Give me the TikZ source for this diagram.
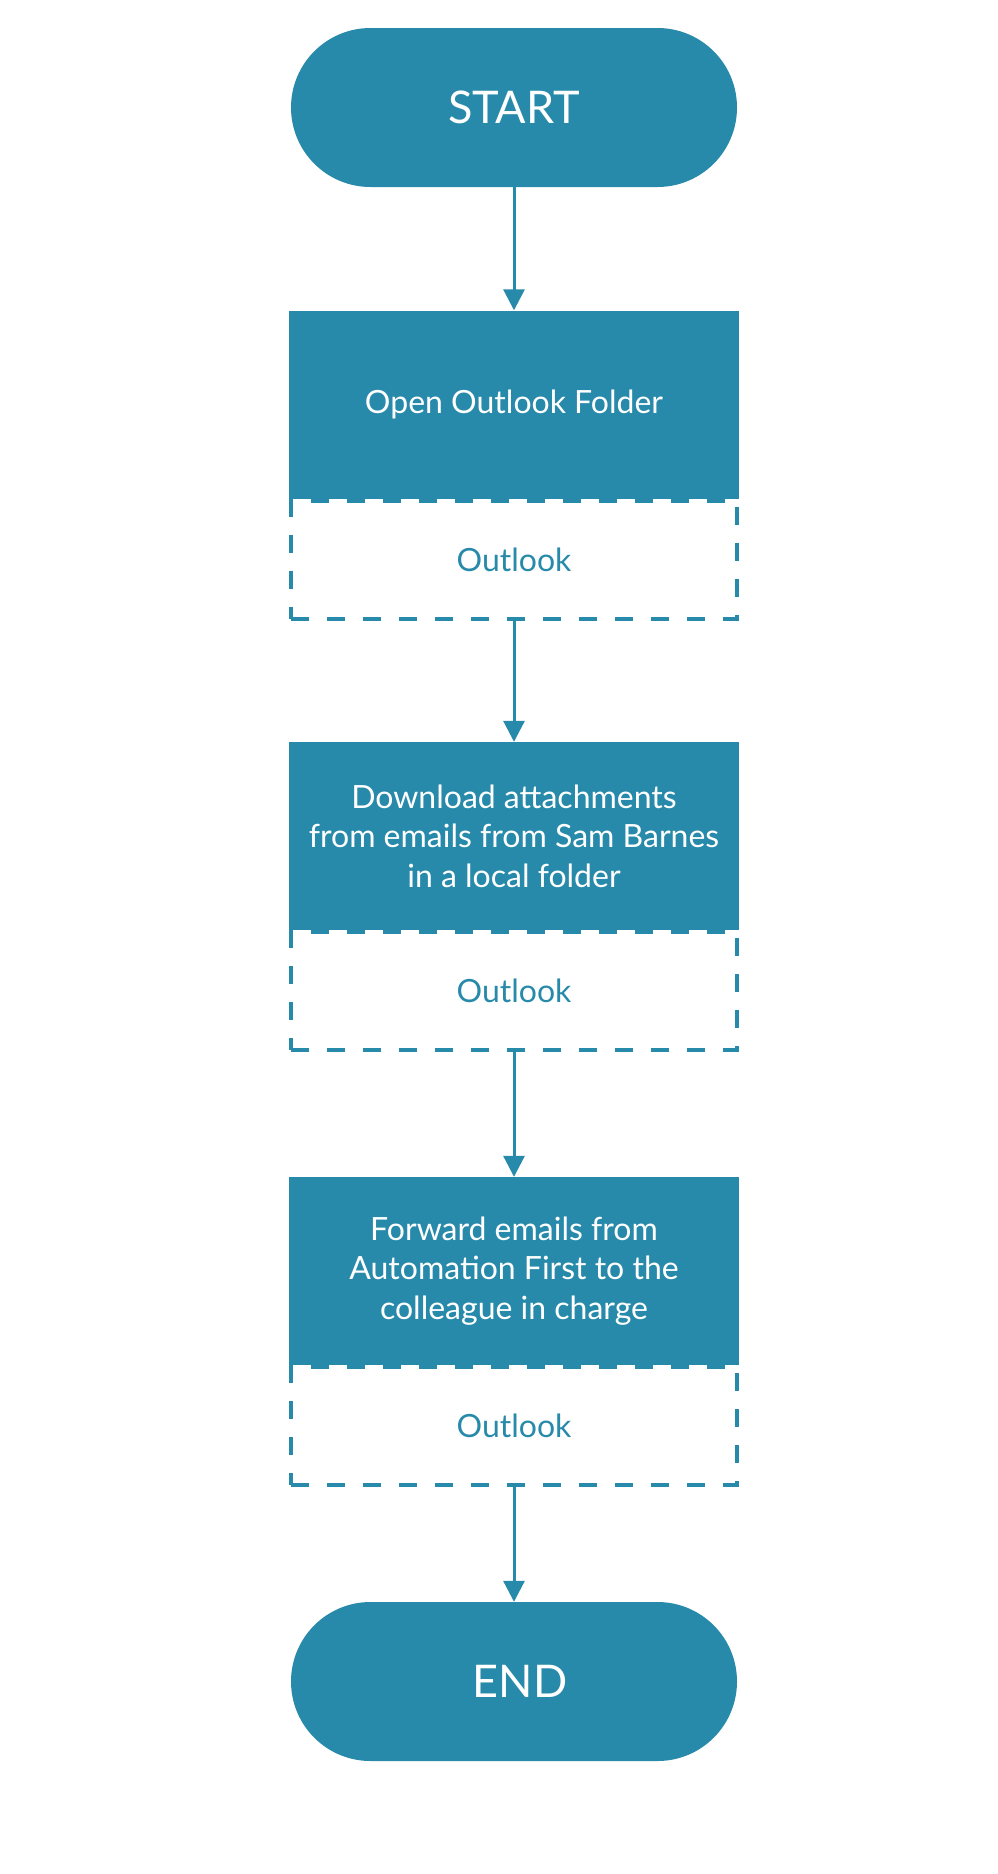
\documentclass[tikz,border=0pt]{standalone}
\usepackage{fontspec}
\setmainfont{Lato}
\usetikzlibrary{arrows.meta}

\definecolor{flowblue}{RGB}{40,138,170}

\tikzset{
  pill/.style={fill=flowblue, text=white, rounded corners=79.5pt, minimum width=446pt, minimum height=159pt, inner sep=0pt, font=\fontsize{45}{54}\selectfont},
  stepbox/.style={fill=flowblue, text=white, minimum width=450pt, minimum height=188pt, inner sep=0pt, align=center, font=\fontsize{32}{39.5}\selectfont},
  toolbox/.style={draw=flowblue, line width=4pt, dash pattern=on 18pt off 18pt, text=flowblue, minimum width=446pt, minimum height=118pt, inner sep=0pt, font=\fontsize{32}{39.5}\selectfont},
  flow/.style={draw=flowblue, line width=3pt, -{Triangle[width=21pt, length=21pt]}}
}

\begin{document}
\begin{tikzpicture}[x=1pt, y=1pt]
\useasboundingbox (0,0) rectangle (998,-1874);

\node[pill] (start) at (514,-107.5) {START};

\node[stepbox] (open) at (514,-404.5) {Open Outlook Folder};
\node[toolbox, anchor=north] (openapp) at (open.south) {Outlook};
\node[stepbox] at (open) {Open Outlook Folder};

\node[stepbox] (download) at (514,-836) {Download attachments\\from emails from Sam Barnes\\in a local folder};
\node[toolbox, anchor=north] (downloadapp) at (download.south) {Outlook};
\node[stepbox] at (download) {Download attachments\\from emails from Sam Barnes\\in a local folder};

\node[stepbox] (forward) at (514,-1271) {Forward emails from\\Automation First to the\\colleague in charge};
\node[toolbox, anchor=north] (forwardapp) at (forward.south) {Outlook};
\node[stepbox] at (forward) {Forward emails from\\Automation First to the\\colleague in charge};

\node[pill] (end) at (514,-1681.5) {\hspace*{12pt}END};

\draw[flow] (start) -- (open);
\draw[flow] (openapp) -- (download);
\draw[flow] (downloadapp) -- (forward);
\draw[flow] (forwardapp) -- (end);
\end{tikzpicture}
\end{document}
